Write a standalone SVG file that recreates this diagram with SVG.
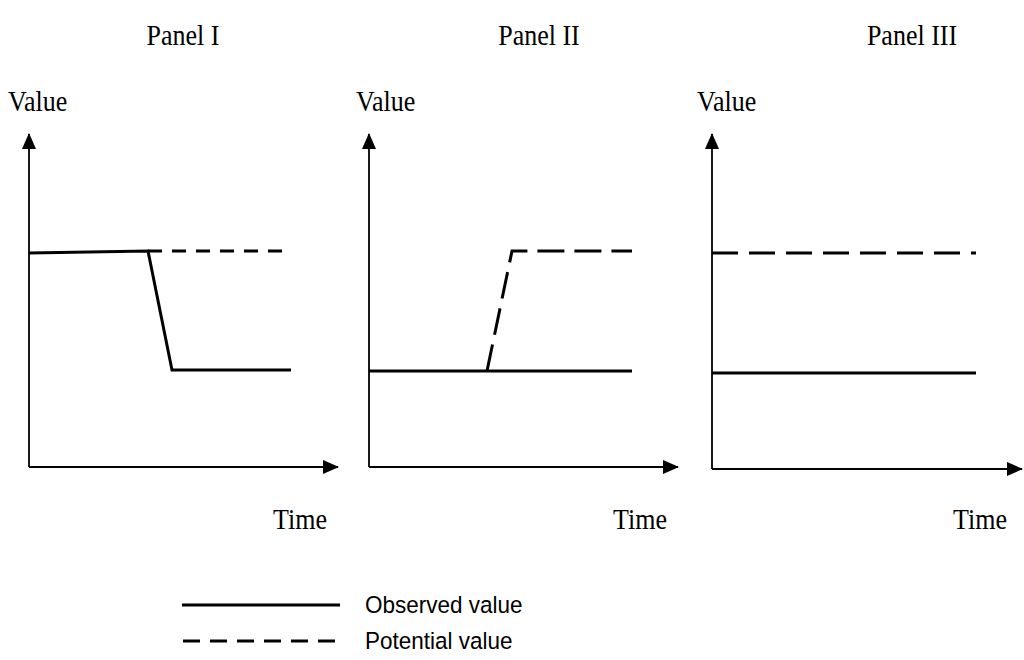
<svg xmlns="http://www.w3.org/2000/svg" width="1024" height="660" viewBox="0 0 1024 660">
<style>
.serif{font-family:"Liberation Serif","Times New Roman",serif;font-size:26px;fill:#000}
.sans{font-family:"Liberation Sans",Arial,sans-serif;font-size:22.5px;fill:#000}
.axis{stroke:#000;stroke-width:1.8;fill:none;marker-end:url(#arr)}
.obs{stroke:#000;stroke-width:3;fill:none;stroke-linejoin:miter}
.pot{stroke:#000;stroke-width:3;fill:none}
</style>
<defs>
<marker id="arr" markerUnits="userSpaceOnUse" markerWidth="16" markerHeight="14" refX="15" refY="7" orient="auto">
<path d="M0,0 L16,7 L0,14 Z" fill="#000"/>
</marker>
</defs>
<rect width="1024" height="660" fill="#fff"/>
<g id="titles">
<text class="serif" transform="translate(183,45) scale(1,1.12)" text-anchor="middle">Panel I</text>
<text class="serif" transform="translate(539,45) scale(1,1.12)" text-anchor="middle">Panel II</text>
<text class="serif" transform="translate(912,45) scale(1,1.12)" text-anchor="middle">Panel III</text>
</g>
<g id="panel1">
<text class="serif" transform="translate(8,111) scale(1,1.12)">Value</text>
<text class="serif" transform="translate(273,529) scale(1,1.12)">Time</text>
<path class="axis" d="M29,467 L29,134"/>
<path class="axis" d="M29,467 L338,467"/>
<path class="obs" d="M29,253 L148,251 L172,370 L291,370"/>
<path class="pot" d="M148,251 L291,251" stroke-dasharray="14 10"/>
</g>
<g id="panel2">
<text class="serif" transform="translate(356,111) scale(1,1.12)">Value</text>
<text class="serif" transform="translate(613,529) scale(1,1.12)">Time</text>
<path class="axis" d="M369,467 L369,134"/>
<path class="axis" d="M369,467 L678,467"/>
<path class="obs" d="M369,371 L632,371"/>
<path class="pot" d="M487,371 L512,251 L632,251" stroke-dasharray="27 10"/>
</g>
<g id="panel3">
<text class="serif" transform="translate(697,111) scale(1,1.12)">Value</text>
<text class="serif" transform="translate(953,529) scale(1,1.12)">Time</text>
<path class="axis" d="M712,469 L712,134"/>
<path class="axis" d="M712,469 L1022,469"/>
<path class="pot" d="M712,253 L976,253" stroke-dasharray="26 11"/>
<path class="obs" d="M712,373 L976,373"/>
</g>
<g id="legend">
<path class="obs" d="M182,605 L340,605"/>
<text class="sans" transform="translate(365,613) scale(1,1.08)">Observed value</text>
<path class="pot" d="M183,641 L340,641" stroke-dasharray="17 10"/>
<text class="sans" transform="translate(365,649) scale(1,1.08)">Potential value</text>
</g>
</svg>
